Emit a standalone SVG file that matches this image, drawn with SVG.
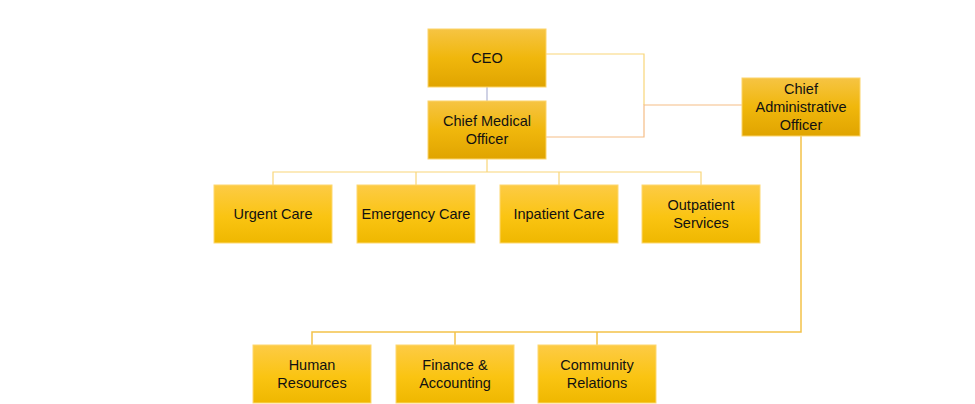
<svg xmlns="http://www.w3.org/2000/svg" width="975" height="404" viewBox="0 0 975 404">
<defs>
<linearGradient id="g" x1="0" y1="0" x2="0" y2="1">
<stop offset="0" stop-color="#f6c443"/>
<stop offset="0.5" stop-color="#f0b70c"/>
<stop offset="1" stop-color="#e0a400"/>
</linearGradient>
<linearGradient id="g2" x1="0" y1="0" x2="0" y2="1">
<stop offset="0" stop-color="#fdcb45"/>
<stop offset="0.55" stop-color="#fac412"/>
<stop offset="1" stop-color="#efb700"/>
</linearGradient>
<style>
.box{fill:url(#g);stroke:#fcd46a;stroke-width:1}
.box2{fill:url(#g2);stroke:#fdd870;stroke-width:1}
.t{font-family:"Liberation Sans",Arial,sans-serif;font-size:14.5px;fill:#111111;text-anchor:middle}
.c{fill:none;stroke:#f9d679;stroke-width:1.2}
.d{fill:none;stroke:#f3c24a;stroke-width:1.5}
.o{fill:none;stroke:#f6bd86;stroke-width:1.2}
.b{fill:none;stroke:#b0b4d4;stroke-width:1.2}
</style>
</defs>
<rect width="975" height="404" fill="#ffffff"/>
<g id="connectors">
<path class="b" d="M487 87V101"/>
<path class="c" d="M546 54H644V105"/>
<path class="o" d="M546 137H644V105H742"/>
<path class="c" d="M487 159V172M273 185V172H701V185M416 172V185M559 172V185"/>
<path class="d" d="M801 136V332H312V345M455 332V345M597 332V345"/>
</g>
<g id="ceo"><rect class="box" x="428" y="29" width="118" height="58"/><text class="t" x="487" y="63">CEO</text></g>
<g id="cmo"><rect class="box" x="428" y="101" width="118" height="58"/><text class="t" x="487" y="126">Chief Medical</text><text class="t" x="487" y="144">Officer</text></g>
<g id="cao"><rect class="box" x="742" y="78" width="118" height="58"/><text class="t" x="801" y="94">Chief</text><text class="t" x="801" y="112">Administrative</text><text class="t" x="801" y="130">Officer</text></g>
<g id="urgent"><rect class="box2" x="214" y="185" width="118" height="58"/><text class="t" x="273" y="219">Urgent Care</text></g>
<g id="emergency"><rect class="box2" x="357" y="185" width="118" height="58"/><text class="t" x="416" y="219">Emergency Care</text></g>
<g id="inpatient"><rect class="box2" x="500" y="185" width="118" height="58"/><text class="t" x="559" y="219">Inpatient Care</text></g>
<g id="outpatient"><rect class="box2" x="642" y="185" width="118" height="58"/><text class="t" x="701" y="210">Outpatient</text><text class="t" x="701" y="228">Services</text></g>
<g id="hr"><rect class="box2" x="253" y="345" width="118" height="58"/><text class="t" x="312" y="370">Human</text><text class="t" x="312" y="388">Resources</text></g>
<g id="finance"><rect class="box2" x="396" y="345" width="118" height="58"/><text class="t" x="455" y="370">Finance &amp;</text><text class="t" x="455" y="388">Accounting</text></g>
<g id="community"><rect class="box2" x="538" y="345" width="118" height="58"/><text class="t" x="597" y="370">Community</text><text class="t" x="597" y="388">Relations</text></g>
</svg>
